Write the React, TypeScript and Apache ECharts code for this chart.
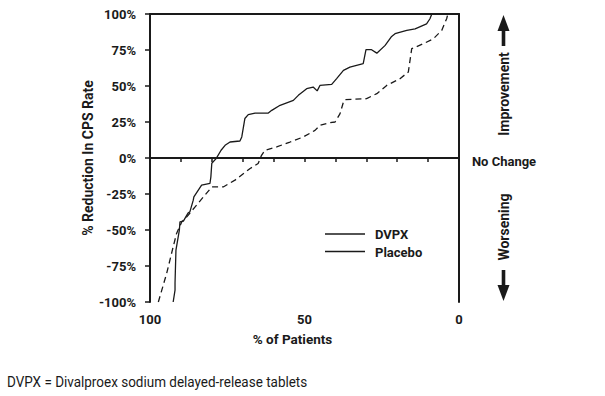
import React, { useEffect, useRef } from "react";
import * as echarts from "echarts";

const FONT = "Roboto, 'Liberation Sans', Arial, sans-serif";

const xTickLabels = [100, 50, 0];

const dvpxPct = [92.5, 91.9, 91.9, 91.6, 90.5, 90.3, 89.2, 87.7, 87.1, 86.0, 85.8, 83.3, 80.6, 80.3, 80.0, 78.6, 77.0, 75.7, 74.1, 70.9, 70.3, 69.3, 68.2, 66.0, 61.7, 60.6, 57.9, 53.6, 52.0, 49.3, 47.2, 45.9, 45.0, 41.2, 39.6, 37.4, 35.3, 31.0, 30.1, 28.3, 26.6, 23.9, 21.8, 20.7, 16.9, 14.2, 10.5, 9.4, 8.8];
const dvpxVal = [-100, -91.7, -86.8, -63.9, -50.1, -44.3, -43.8, -38.3, -37.4, -29.3, -27.0, -18.9, -17.7, -13.1, -3.6, -0.4, 5.4, 8.8, 11.1, 11.8, 14.6, 27.4, 30.1, 31.2, 31.2, 33.1, 36.6, 40.0, 43.5, 48.1, 49.3, 46.6, 50.4, 51.1, 55.1, 60.8, 63.1, 65.5, 75.2, 75.2, 72.8, 78.2, 84.4, 86.3, 88.6, 89.7, 93.2, 96.7, 100];

const placeboPct = [97.3, 94.6, 92.5, 91.4, 89.7, 88.1, 85.4, 82.7, 80.0, 76.3, 72.5, 67.6, 65.0, 63.9, 62.8, 59.0, 54.7, 50.4, 46.6, 45.0, 42.3, 40.1, 38.5, 37.4, 36.9, 29.9, 26.6, 23.4, 19.1, 16.4, 15.3, 11.6, 8.3, 5.6, 4.0, 3.6];
const placeboVal = [-100, -80.1, -61.7, -52.4, -44.3, -40.9, -33.9, -27.0, -20.1, -20.1, -15.4, -7.3, -3.8, 1.9, 5.4, 7.7, 11.1, 14.6, 19.2, 22.7, 24.3, 25.0, 30.8, 38.9, 40.5, 41.2, 44.7, 50.4, 55.1, 59.7, 75.9, 79.3, 82.8, 88.6, 96.7, 100];

const seriesNames = ["DVPX", "Placebo"];

export default function App() {
  const ref = useRef<HTMLDivElement>(null);
  useEffect(() => {
    if (!ref.current) return;
    const chart = echarts.init(ref.current, null, { renderer: "svg" });
    const ink = "#1a1a1a";
    const boldText = { fontFamily: FONT, fontWeight: "bold" as const, fontSize: 13, color: ink };
    chart.setOption({
      animation: false,
      backgroundColor: "#fff",
      grid: { left: 150, right: 146, top: 14, bottom: 94 },
      xAxis: [
        {
          type: "value",
          min: 0,
          max: 100,
          interval: 10,
          inverse: true,
          name: "% of Patients",
          nameLocation: "middle",
          nameGap: 30,
          nameMoveOverlap: false,
          nameTextStyle: { ...boldText, fontSize: 13.5, padding: [0, 24, 0, 0] },
          axisLine: { show: true, lineStyle: { color: ink, width: 2 } },
          axisTick: { show: true, length: 4, lineStyle: { color: ink, width: 1.5 } },
          axisLabel: {
            ...boldText,
            margin: 11,
            formatter: (v: number) => (xTickLabels.includes(v) ? String(v) : ""),
          },
          splitLine: { show: false },
        },
        {
          type: "value",
          min: 0,
          max: 100,
          inverse: true,
          position: "top",
          axisLine: { show: true, onZero: false, lineStyle: { color: ink, width: 2 } },
          axisTick: { show: false },
          axisLabel: { show: false },
          splitLine: { show: false },
        },
      ],
      yAxis: [
        {
          type: "value",
          min: -100,
          max: 100,
          interval: 25,
          name: "% Reduction In CPS Rate",
          nameLocation: "middle",
          nameGap: 55,
          nameMoveOverlap: false,
          nameTextStyle: { ...boldText, fontSize: 14 },
          axisLine: { show: true, onZero: false, lineStyle: { color: ink, width: 2 } },
          axisTick: { show: true, length: 5, lineStyle: { color: ink, width: 1.5 } },
          axisLabel: { ...boldText, margin: 14, formatter: (v: number) => `${v}%` },
          splitLine: { show: false },
        },
        {
          type: "value",
          min: -100,
          max: 100,
          position: "right",
          axisLine: { show: true, onZero: false, lineStyle: { color: ink, width: 2 } },
          axisTick: { show: false },
          axisLabel: { show: false },
          splitLine: { show: false },
        },
      ],
      series: [
        {
          name: seriesNames[0],
          type: "line",
          showSymbol: false,
          symbol: "none",
          data: dvpxPct.map((p, i) => [p, dvpxVal[i]]),
          lineStyle: { color: ink, width: 1.3 },
          markLine: {
            silent: true,
            symbol: "none",
            label: { show: false },
            lineStyle: { color: ink, width: 2, type: "solid" },
            data: [{ yAxis: 0 }],
          },
        },
        {
          name: seriesNames[1],
          type: "line",
          showSymbol: false,
          symbol: "none",
          data: placeboPct.map((p, i) => [p, placeboVal[i]]),
          lineStyle: { color: ink, width: 1.3, type: [6, 4] },
        },
      ],
      graphic: [
        { type: "line", shape: { x1: 325, y1: 234, x2: 365, y2: 234 }, style: { stroke: ink, lineWidth: 1.5 } },
        { type: "line", shape: { x1: 325, y1: 251.5, x2: 365, y2: 251.5 }, style: { stroke: ink, lineWidth: 1.5 } },
        { type: "text", x: 375, y: 234, style: { text: seriesNames[0], font: `bold 13px ${FONT}`, fill: ink, verticalAlign: "middle" } },
        { type: "text", x: 375, y: 252, style: { text: seriesNames[1], font: `bold 13px ${FONT}`, fill: ink, verticalAlign: "middle" } },
        // Improvement arrow
        { type: "polygon", shape: { points: [[503.5, 15], [497.5, 31], [509.5, 31]] }, style: { fill: ink } },
        { type: "rect", shape: { x: 501.7, y: 30, width: 3.6, height: 16 }, style: { fill: ink } },
        { type: "text", x: 503.5, y: 94, rotation: Math.PI / 2, style: { text: "Improvement", font: `bold 14px ${FONT}`, fill: ink, align: "center", verticalAlign: "middle" } },
        { type: "text", x: 504, y: 161, style: { text: "No Change", font: `bold 13px ${FONT}`, fill: ink, align: "center", verticalAlign: "middle" } },
        { type: "text", x: 503.5, y: 227, rotation: Math.PI / 2, style: { text: "Worsening", font: `bold 14px ${FONT}`, fill: ink, align: "center", verticalAlign: "middle" } },
        { type: "rect", shape: { x: 501.7, y: 270, width: 3.6, height: 16 }, style: { fill: ink } },
        { type: "polygon", shape: { points: [[503.5, 301], [497.5, 285], [509.5, 285]] }, style: { fill: ink } },
        { type: "text", x: 7, y: 382, scaleX: 0.9, style: { text: "DVPX = Divalproex sodium delayed-release tablets", font: `15px ${FONT}`, fill: ink, verticalAlign: "middle" } },
      ],
    });
    return () => chart.dispose();
  }, []);
  return <div ref={ref} style={{ position: "fixed", left: 0, top: 0, width: 605, height: 396 }} />;
}
